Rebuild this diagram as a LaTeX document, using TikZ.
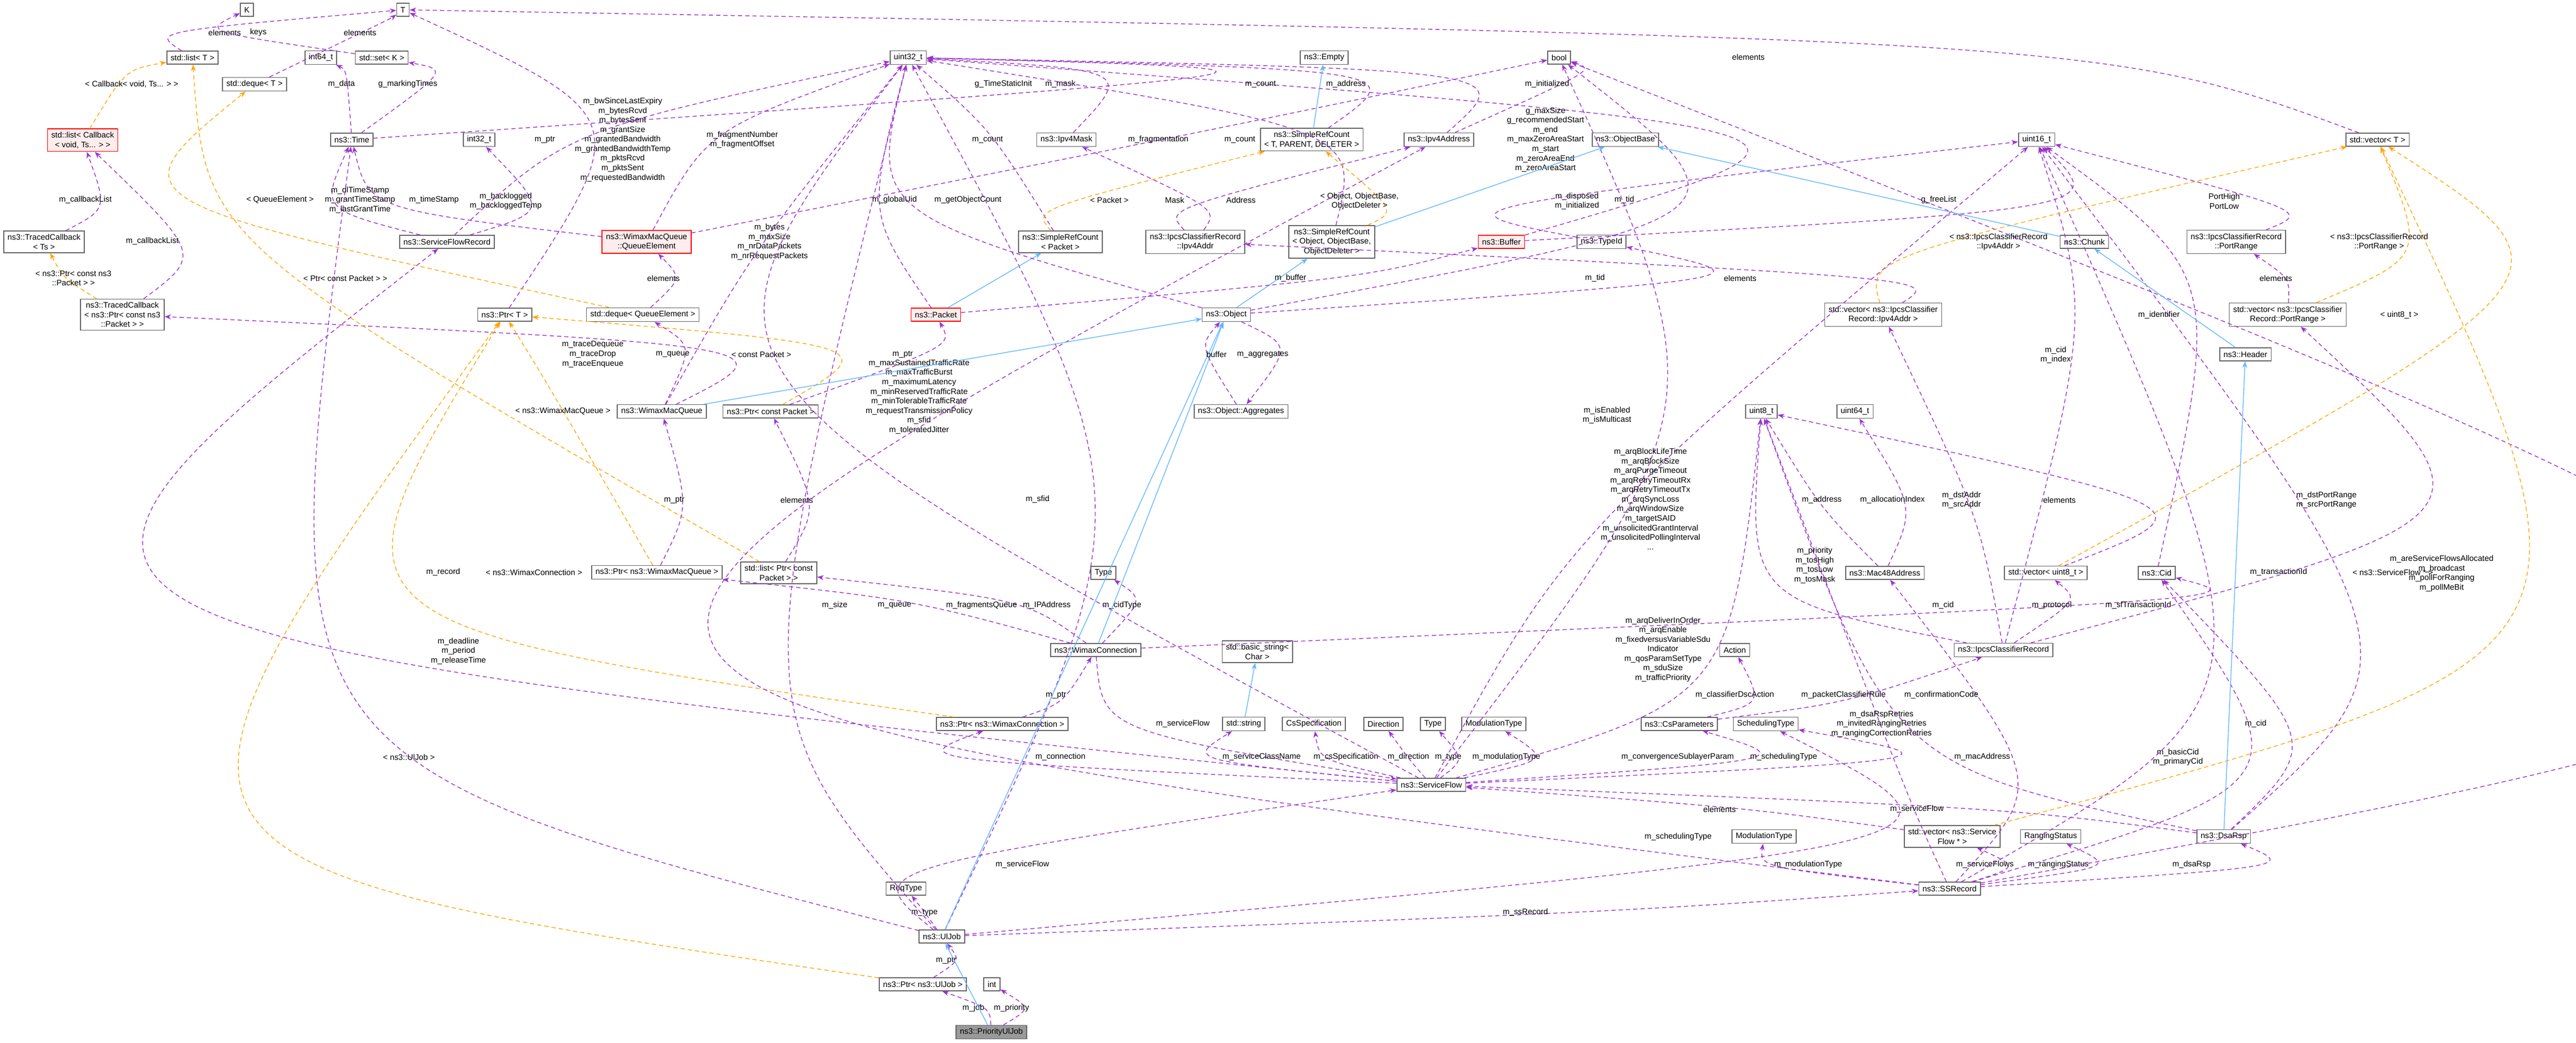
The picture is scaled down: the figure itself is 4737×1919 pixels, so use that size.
\documentclass[tikz,border=0pt]{standalone}
\usepackage{fontspec}
\setmainfont{Liberation Sans}
\usetikzlibrary{calc,arrows.meta}
\definecolor{pur}{HTML}{9A32CD}
\definecolor{org}{HTML}{FFA500}
\definecolor{blu}{HTML}{63B8FF}
\tikzset{
 box/.style={draw=black!60,line width=0.45pt,fill=white,inner xsep=2pt,inner ysep=1.6pt,minimum height=0.24cm,align=center,font=\fontsize{4.2}{5}\selectfont},
 redbox/.style={box,draw=red,fill=red!7},
 greybox/.style={box,fill=black!40},
 lbl/.style={inner sep=0.4pt,align=center,font=\fontsize{4.2}{5}\selectfont},
 use/.style={draw=pur,line width=0.4pt,dash pattern=on 2.2pt off 1.6pt,-{Stealth[length=3.4pt,width=2.6pt]}},
 tmpl/.style={draw=org,line width=0.4pt,dash pattern=on 2.2pt off 1.6pt,-{Stealth[length=3.4pt,width=2.6pt]}},
 inh/.style={draw=blu,line width=0.4pt,-{Stealth[length=3.4pt,width=2.6pt]}}
}
\newcommand\E[5]{\draw[#1] (#2) .. controls ($2*(#5)-0.5*(#2)-0.5*(#3)$) .. (#3);
 \node[lbl] at (#5) {#4};}
\newcommand\I[2]{\draw[inh] (#1) -- (#2);}
\begin{document}
\begin{tikzpicture}[x=0.01cm,y=-0.01cm]
\useasboundingbox (0,0) rectangle (4737,1919);
% ---- nodes
\node[box] (K) at (454,18) {K};
\node[box] (T) at (741,18) {T};
\node[box] (listT) at (354,106) {std::list< T >};
\node[box] (int64) at (590,106) {int64\_t};
\node[box] (setK) at (702,106) {std::set< K >};
\node[box] (dequeT) at (468,155) {std::deque< T >};
\node[redbox] (listCb) at (152,258) {std::list< Callback\\< void, Ts... > >};
\node[box] (time) at (647,257) {ns3::Time};
\node[box] (int32) at (881,257) {int32\_t};
\node[box] (tcTs) at (81,445) {ns3::TracedCallback\\< Ts >};
\node[box] (sfr) at (822,445) {ns3::ServiceFlowRecord};
\node[redbox] (qe) at (1189,445) {ns3::WimaxMacQueue\\::QueueElement};
\node[box] (tcPtr) at (225,579) {ns3::TracedCallback\\< ns3::Ptr< const ns3\\::Packet > >};
\node[box] (ptrT) at (928,579) {ns3::Ptr< T >};
\node[box] (dequeQE) at (1182,579) {std::deque< QueueElement >};
\node[box] (u32) at (1670,106) {uint32\_t};
\node[box] (empty) at (2435,106) {ns3::Empty};
\node[box] (bool) at (2867,106) {bool};
\node[box] (ipv4mask) at (1961,257) {ns3::Ipv4Mask};
\node[box] (srcT) at (2412,257) {ns3::SimpleRefCount\\< T, PARENT, DELETER >};
\node[box] (ipv4addr) at (2646,257) {ns3::Ipv4Address};
\node[box] (objbase) at (2989,257) {ns3::ObjectBase};
\node[box] (srcPacket) at (1950,445) {ns3::SimpleRefCount\\< Packet >};
\node[box] (icrAddr) at (2198,445) {ns3::IpcsClassifierRecord\\::Ipv4Addr};
\node[box] (srcObj) at (2449,445) {ns3::SimpleRefCount\\< Object, ObjectBase,\\ObjectDeleter >};
\node[redbox] (buffer) at (2761,445) {ns3::Buffer};
\node[box] (typeid) at (2945,445) {ns3::TypeId};
\node[redbox] (packet) at (1721,579) {ns3::Packet};
\node[box] (object) at (2255,579) {ns3::Object};
\node[box] (u16) at (3745,257) {uint16\_t};
\node[box] (vecT) at (4372,257) {std::vector< T >};
\node[box] (chunk) at (3833,445) {ns3::Chunk};
\node[box] (portrange) at (4112,445) {ns3::IpcsClassifierRecord\\::PortRange};
\node[box] (vecAddr) at (3463,579) {std::vector< ns3::IpcsClassifier\\Record::Ipv4Addr >};
\node[box] (vecPort) at (4207,579) {std::vector< ns3::IpcsClassifier\\Record::PortRange >};
\node[box] (header) at (4129,652) {ns3::Header};
\node[box] (wmq) at (1217,757) {ns3::WimaxMacQueue};
\node[box] (ptrCP) at (1417,757) {ns3::Ptr< const Packet >};
\node[box] (ptrWMQ) at (1208,1053) {ns3::Ptr< ns3::WimaxMacQueue >};
\node[box] (listPCP) at (1432,1054) {std::list< Ptr< const\\Packet > >};
\node[box] (aggr) at (2282,757) {ns3::Object::Aggregates};
\node[box] (typeCid) at (2029,1054) {Type};
\node[box] (wconn) at (2015,1196) {ns3::WimaxConnection};
\node[box] (bstr) at (2312,1199) {std::basic\_string<\\Char >};
\node[box] (ptrWC) at (1843,1332) {ns3::Ptr< ns3::WimaxConnection >};
\node[box] (str) at (2287,1332) {std::string};
\node[box] (csspec) at (2416,1332) {CsSpecification};
\node[box] (dir) at (2544,1332) {Direction};
\node[box] (typeSF) at (2635,1332) {Type};
\node[box] (modt1) at (2747,1332) {ModulationType};
\node[box] (csp) at (3088,1332) {ns3::CsParameters};
\node[box] (sf) at (2632,1444) {ns3::ServiceFlow};
\node[box] (reqtype) at (1666,1635) {ReqType};
\node[box] (uljob) at (1732,1723) {ns3::UlJob};
\node[box] (ptrUl) at (1697,1811) {ns3::Ptr< ns3::UlJob >};
\node[box] (int) at (1824,1811) {int};
\node[greybox] (pujob) at (1823,1899) {ns3::PriorityUlJob};
\node[box] (action) at (3190,1196) {Action};
\node[box] (u8) at (3239,757) {uint8\_t};
\node[box] (u64) at (3411,757) {uint64\_t};
\node[box] (mac) at (3466,1054) {ns3::Mac48Address};
\node[box] (vecU8) at (3762,1054) {std::vector< uint8\_t >};
\node[box] (cid) at (3966,1054) {ns3::Cid};
\node[box] (icr) at (3684,1196) {ns3::IpcsClassifierRecord};
\node[box] (schedt) at (3247,1332) {SchedulingType};
\node[box] (vecSF) at (3590,1539) {std::vector< ns3::Service\\Flow * >};
\node[box] (rstat) at (3771,1539) {RangingStatus};
\node[box] (dsarsp) at (4089,1539) {ns3::DsaRsp};
\node[box] (modt2) at (3244,1539) {ModulationType};
\node[box] (ssrec) at (3585,1635) {ns3::SSRecord};
% ---- edges
\E{use}{listT}{T}{elements}{413,60}
\E{use}{setK}{K}{keys}{475,60}
\E{use}{dequeT}{T}{elements}{662,60}
\E{use}{time}{int64}{m\_data}{628,155}
\E{use}{time}{setK}{g\_markingTimes}{750,155}
\E{tmpl}{listCb}{listT}{< Callback< void, Ts... > >}{242,155}
\E{use}{tcTs}{listCb}{m\_callbackList}{157,368}
\E{use}{tcPtr}{listCb}{m\_callbackList}{280,444}
\E{tmpl}{tcPtr}{tcTs}{< ns3::Ptr< const ns3\\::Packet > >}{135,512}
\E{use}{sfr}{time}{m\_dlTimeStamp\\m\_grantTimeStamp\\m\_lastGrantTime}{662,368}
\E{use}{qe}{time}{m\_timeStamp}{798,368}
\E{use}{sfr}{int32}{m\_backlogged\\m\_backloggedTemp}{930,370}
\E{use}{sfr}{u32}{m\_bwSinceLastExpiry\\m\_bytesRcvd\\m\_bytesSent\\m\_grantSize\\m\_grantedBandwidth\\m\_grantedBandwidthTemp\\m\_pktsRcvd\\m\_pktsSent\\m\_requestedBandwidth}{1145,257}
\E{use}{qe}{u32}{m\_fragmentNumber\\m\_fragmentOffset}{1365,257}
\E{use}{ptrT}{T}{m\_ptr}{1002,257}
\E{use}{time}{u32}{g\_TimeStaticInit}{1845,155}
\E{use}{qe}{bool}{m\_fragmentation}{2130,257}
\E{tmpl}{dequeQE}{dequeT}{< QueueElement >}{515,368}
\E{use}{dequeQE}{qe}{elements}{1220,512}
\E{use}{wmq}{dequeQE}{m\_queue}{1237,652}
\E{use}{wmq}{tcPtr}{m\_traceDequeue\\m\_traceDrop\\m\_traceEnqueue}{1090,652}
\E{use}{wmq}{u32}{m\_bytes\\m\_maxSize\\m\_nrDataPackets\\m\_nrRequestPackets}{1415,445}
\E{tmpl}{ptrCP}{ptrT}{< const Packet >}{1400,652}
\E{use}{ptrCP}{packet}{m\_ptr}{1660,652}
\E{use}{listPCP}{ptrCP}{elements}{1465,920}
\E{tmpl}{listPCP}{listT}{< Ptr< const Packet > >}{635,512}
\E{use}{ptrWMQ}{wmq}{m\_ptr}{1240,920}
\E{tmpl}{ptrWMQ}{ptrT}{< ns3::WimaxMacQueue >}{1035,757}
\E{tmpl}{ptrWC}{ptrT}{< ns3::WimaxConnection >}{982,1053}
\E{tmpl}{ptrUl}{ptrT}{< ns3::UlJob >}{752,1393}
\E{use}{uljob}{time}{m\_deadline\\m\_period\\m\_releaseTime}{843,1198}
\E{use}{wconn}{listPCP}{m\_fragmentsQueue}{1805,1114}
\E{use}{wconn}{ptrWMQ}{m\_queue}{1645,1114}
\E{use}{wconn}{typeCid}{m\_cidType}{2063,1114}
\E{use}{wconn}{cid}{m\_cid}{3573,1114}
\E{use}{wconn}{sf}{m\_serviceFlow}{2175,1332}
\E{use}{ptrWC}{wconn}{m\_ptr}{1942,1279}
\E{use}{sf}{ptrWC}{m\_connection}{1950,1393}
\E{use}{sf}{str}{m\_serviceClassName}{2320,1393}
\E{use}{sf}{csspec}{m\_csSpecification}{2475,1393}
\E{use}{sf}{dir}{m\_direction}{2590,1393}
\E{use}{sf}{typeSF}{m\_type}{2663,1393}
\E{use}{sf}{modt1}{m\_modulationType}{2770,1393}
\E{use}{sf}{csp}{m\_convergenceSublayerParam}{3085,1393}
\E{use}{sf}{schedt}{m\_schedulingType}{3280,1393}
\E{use}{sf}{u32}{m\_maxSustainedTrafficRate\\m\_maxTrafficBurst\\m\_maximumLatency\\m\_minReservedTrafficRate\\m\_minTolerableTrafficRate\\m\_requestTransmissionPolicy\\m\_sfid\\m\_toleratedJitter}{1690,730}
\E{use}{sf}{bool}{m\_isEnabled\\m\_isMulticast}{2955,764}
\E{use}{sf}{u16}{m\_arqBlockLifeTime\\m\_arqBlockSize\\m\_arqPurgeTimeout\\m\_arqRetryTimeoutRx\\m\_arqRetryTimeoutTx\\m\_arqSyncLoss\\m\_arqWindowSize\\m\_targetSAID\\m\_unsolicitedGrantInterval\\m\_unsolicitedPollingInterval\\...}{3035,918}
\E{use}{sf}{u8}{m\_arqDeliverInOrder\\m\_arqEnable\\m\_fixedversusVariableSdu\\Indicator\\m\_qosParamSetType\\m\_sduSize\\m\_trafficPriority}{3058,1195}
\E{use}{sf}{sfr}{m\_record}{815,1053}
\E{use}{uljob}{u32}{m\_sfid}{1908,919}
\E{use}{csp}{action}{m\_classifierDscAction}{3190,1279}
\E{use}{csp}{icr}{m\_packetClassifierRule}{3390,1279}
\I{str}{bstr}
\E{use}{uljob}{reqtype}{m\_type}{1700,1679}
\E{use}{uljob}{sf}{m\_serviceFlow}{1880,1591}
\E{use}{uljob}{ssrec}{m\_ssRecord}{2805,1679}
\E{use}{uljob}{u32}{m\_size}{1535,1114}
\E{use}{uljob}{schedt}{m\_schedulingType}{3086,1540}
\E{use}{ptrUl}{uljob}{m\_ptr}{1740,1767}
\E{use}{pujob}{ptrUl}{m\_job}{1790,1855}
\E{use}{pujob}{int}{m\_priority}{1860,1855}
\E{use}{ssrec}{modt2}{m\_modulationType}{3325,1591}
\E{use}{ssrec}{vecSF}{m\_serviceFlows}{3650,1591}
\E{use}{ssrec}{rstat}{m\_rangingStatus}{3785,1591}
\E{use}{ssrec}{dsarsp}{m\_dsaRsp}{4030,1591}
\E{use}{ssrec}{cid}{m\_basicCid\\m\_primaryCid}{4005,1393}
\E{use}{ssrec}{mac}{m\_macAddress}{3645,1393}
\E{use}{ssrec}{u8}{m\_dsaRspRetries\\m\_invitedRangingRetries\\m\_rangingCorrectionRetries}{3460,1332}
\E{use}{ssrec}{bool}{m\_areServiceFlowsAllocated\\m\_broadcast\\m\_pollForRanging\\m\_pollMeBit}{4490,1055}
\E{use}{ssrec}{u16}{m\_sfTransactionId}{3932,1114}
\E{use}{ssrec}{ipv4addr}{m\_IPAddress}{1925,1114}
\E{use}{dsarsp}{sf}{m\_serviceFlow}{3525,1489}
\E{use}{dsarsp}{cid}{m\_cid}{4148,1332}
\E{use}{dsarsp}{u16}{m\_transactionId}{4190,1053}
\E{use}{dsarsp}{u8}{m\_confirmationCode}{3570,1279}
\E{use}{vecSF}{sf}{elements}{3162,1489}
\E{tmpl}{vecSF}{vecT}{< ns3::ServiceFlow * >}{4400,1053}
\E{use}{cid}{u16}{m\_identifier}{3970,580}
\E{use}{icr}{u8}{m\_priority\\m\_tosHigh\\m\_tosLow\\m\_tosMask}{3337,1040}
\E{use}{icr}{vecU8}{m\_protocol}{3773,1114}
\E{use}{icr}{vecAddr}{m\_dstAddr\\m\_srcAddr}{3607,920}
\E{use}{icr}{vecPort}{m\_dstPortRange\\m\_srcPortRange}{4278,920}
\E{use}{icr}{u16}{m\_cid\\m\_index}{3780,653}
\E{use}{vecU8}{u8}{elements}{3787,920}
\E{tmpl}{vecU8}{vecT}{< uint8\_t >}{4412,580}
\E{use}{mac}{u8}{m\_address}{3350,920}
\E{use}{mac}{u64}{m\_allocationIndex}{3480,920}
\E{use}{vecPort}{portrange}{elements}{4185,512}
\E{tmpl}{vecPort}{vecT}{< ns3::IpcsClassifierRecord\\::PortRange >}{4375,445}
\E{use}{vecAddr}{icrAddr}{elements}{3200,512}
\E{tmpl}{vecAddr}{vecT}{< ns3::IpcsClassifierRecord\\::Ipv4Addr >}{3675,445}
\E{use}{portrange}{u16}{PortHigh\\PortLow}{4090,370}
\E{use}{vecT}{T}{elements}{3215,105}
\E{use}{buffer}{u32}{g\_maxSize\\g\_recommendedStart\\m\_end\\m\_maxZeroAreaStart\\m\_start\\m\_zeroAreaEnd\\m\_zeroAreaStart}{2842,257}
\E{use}{buffer}{u16}{g\_freeList}{3565,368}
\E{use}{ipv4addr}{u32}{m\_address}{2475,155}
\E{use}{ipv4addr}{bool}{m\_initialized}{2845,155}
\E{use}{ipv4mask}{u32}{m\_mask}{1950,155}
\E{use}{icrAddr}{ipv4addr}{Address}{2282,368}
\E{use}{icrAddr}{ipv4mask}{Mask}{2160,368}
\E{use}{srcT}{u32}{m\_count}{2318,155}
\E{use}{srcPacket}{u32}{m\_count}{1816,257}
\E{use}{srcObj}{u32}{m\_count}{2280,257}
\I{srcT}{empty}
\E{tmpl}{srcPacket}{srcT}{< Packet >}{2040,368}
\E{tmpl}{srcObj}{srcT}{< Object, ObjectBase,\\ObjectDeleter >}{2500,370}
\I{srcObj}{objbase}
\I{object}{srcObj}
\I{packet}{srcPacket}
\I{chunk}{objbase}
\I{header}{chunk}
\I{dsarsp}{header}
\I{wmq}{object}
\I{wconn}{object}
\I{uljob}{object}
\I{pujob}{uljob}
\E{use}{packet}{u32}{m\_globalUid}{1645,368}
\E{use}{object}{u32}{m\_getObjectCount}{1780,368}
\E{use}{packet}{buffer}{m\_buffer}{2373,512}
\E{use}{object}{typeid}{m\_tid}{2933,512}
\E{use}{object}{bool}{m\_disposed\\m\_initialized}{2900,370}
\E{use}{typeid}{u16}{m\_tid}{2987,368}
\E{use}{object}{aggr}{m\_aggregates}{2322,652}
\E{use}{aggr}{object}{buffer}{2237,652}
\end{tikzpicture}
\end{document}
